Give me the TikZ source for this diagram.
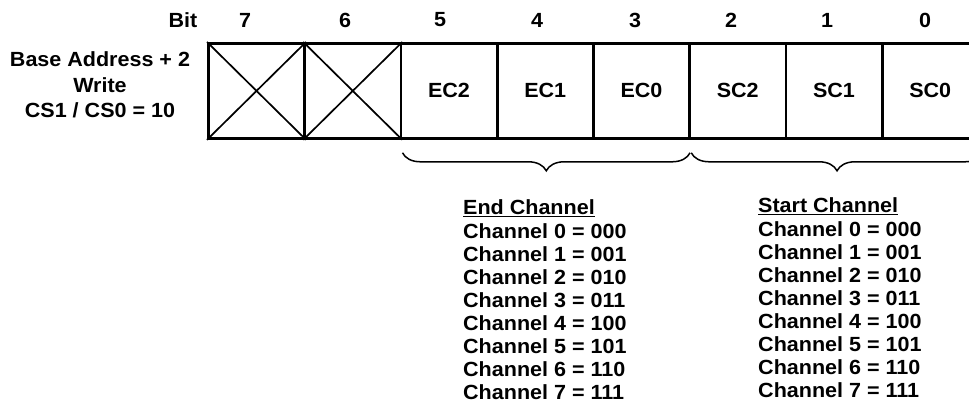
\documentclass[tikz,border=0pt]{standalone}
\usepackage{fontspec}
\setmainfont{Liberation Sans}[FakeStretch=1.05]
\usetikzlibrary{decorations.pathreplacing}
\begin{document}
\begin{tikzpicture}[x=1pt,y=-1pt,
  txt/.style={font=\fontsize{20.5}{24}\selectfont\bfseries, inner sep=0pt},
  cell/.style={draw, line width=2.8pt, minimum width=96.25pt, minimum height=95pt, inner sep=0pt, anchor=north west, font=\fontsize{20.5}{24}\selectfont\bfseries},
  crossline/.style={line width=1.7pt},
  bracestyle/.style={decorate, decoration={brace, mirror, amplitude=18pt}, line width=1.5pt},
  listline/.style={txt, anchor=base west}
]
\useasboundingbox (0,0) rectangle (969,411);
\fill[white] (0,0) rectangle (969,411);

% left label
\node[txt, align=center] (lbl) at (100,85) {Base Address + 2\\[1.5pt]Write\\[1.5pt]CS1 / CS0 = 10};

% bit labels
\node[txt] (bit) at (183,20) {Bit};
\node[txt] (b7) at (245,20) {7};
\node[txt] (b6) at (345,20) {6};
\node[txt] (b5) at (440,20) {5};
\node[txt] (b4) at (537,20) {4};
\node[txt] (b3) at (635,20) {3};
\node[txt] (b2) at (731,20) {2};
\node[txt] (b1) at (827,20) {1};
\node[txt] (b0) at (925,20) {0};

% cells
\node[cell] (c7) at (207,42) {};
\node[cell] (c6) at (303.25,42) {};
\node[cell] (c5) at (399.5,42) {EC2};
\node[cell] (c4) at (495.75,42) {EC1};
\node[cell] (c3) at (592,42) {EC0};
\node[cell] (c2) at (688.25,42) {SC2};
\node[cell] (c1) at (784.5,42) {SC1};
\node[cell] (c0) at (880.75,42) {SC0};

% crosses
\draw[crossline] (c7.north west) -- (c7.south east);
\draw[crossline] (c7.south west) -- (c7.north east);
\draw[crossline] (c6.north west) -- (c6.south east);
\draw[crossline] (c6.south west) -- (c6.north east);

% braces
\draw[bracestyle] ([xshift=3pt,yshift=-13pt]c5.south west) -- ([xshift=-1pt,yshift=-13pt]c3.south east);
\draw[bracestyle] ([xshift=3pt,yshift=-13pt]c2.south west) -- ([xshift=3pt,yshift=-13pt]c0.south east);

% End channel list
\node[listline] (e0) at (463,215) {\underline{End Channel}};
\foreach \i/\v in {0/000,1/001,2/010,3/011,4/100,5/101,6/110,7/111}{
  \node[listline] (ec\i) at (463,{238.1+23.1*\i}) {Channel \i\ = \v};
}
% Start channel list
\node[listline] (s0) at (758,213) {\underline{Start Channel}};
\foreach \i/\v in {0/000,1/001,2/010,3/011,4/100,5/101,6/110,7/111}{
  \node[listline] (sc\i) at (758,{236.1+23.1*\i}) {Channel \i\ = \v};
}
\end{tikzpicture}
\end{document}
